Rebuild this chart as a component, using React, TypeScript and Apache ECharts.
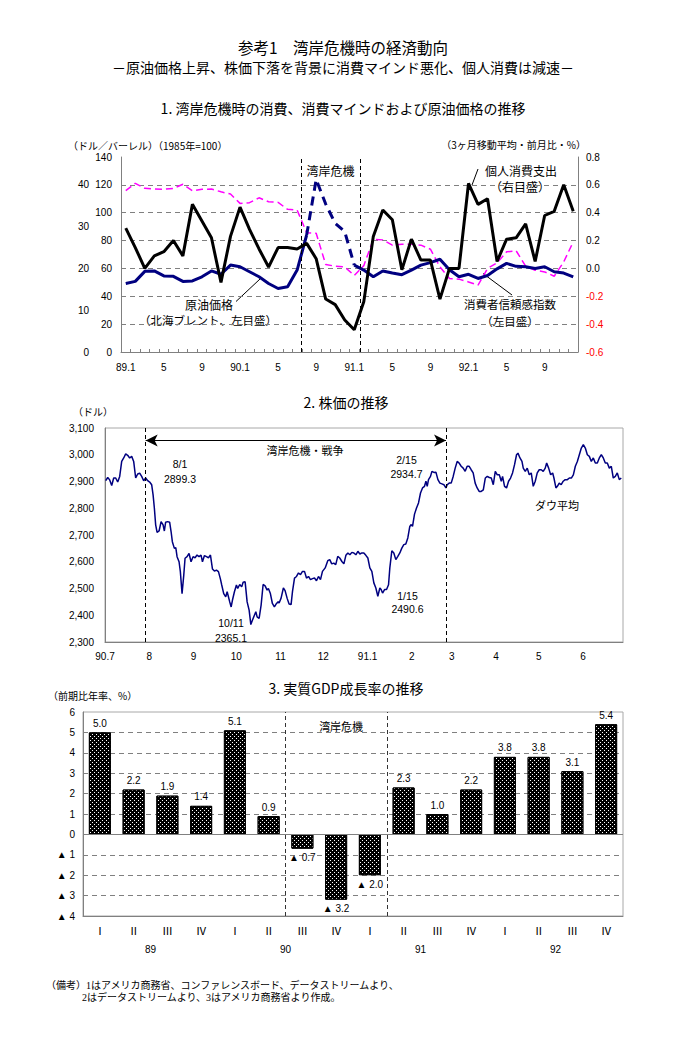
import { useEffect, useRef } from "react";
import * as echarts from "echarts";

const JP = '"Noto Sans CJK JP", sans-serif';
const NUM = '"Liberation Sans", Arial, sans-serif';
const GRAY = "#808080";

// ---------- Panel 1: monthly, 1989.1 - 1992.12 ----------
const monthCategories = [
  "89.1","89.2","89.3","89.4","89.5","89.6","89.7","89.8","89.9","89.10","89.11","89.12",
  "90.1","90.2","90.3","90.4","90.5","90.6","90.7","90.8","90.9","90.10","90.11","90.12",
  "91.1","91.2","91.3","91.4","91.5","91.6","91.7","91.8","91.9","91.10","91.11","91.12",
  "92.1","92.2","92.3","92.4","92.5","92.6","92.7","92.8","92.9","92.10","92.11","92.12",
];
// Consumer confidence index (1985=100), left inner axis
const confidenceIndex = [
  115.8,121.1,117.5,117.0,116.8,117.5,120.4,115.8,116.8,117.0,115.0,113.4,
  106.7,107.2,110.7,107.9,107.4,102.4,101.9,85.6,85.2,62.8,61.6,61.1,
  54.9,62.0,80.8,80.5,76.7,77.4,77.4,76.7,73.8,61.1,52.8,52.3,
  50.3,48.0,60.0,64.0,71.9,72.7,61.6,58.7,57.5,54.4,64.7,79.1,
];
// Brent crude ($/barrel), left outer axis
const oilPrice = [
  16.4,16.9,19.3,19.4,18.2,18.1,16.9,17.0,18.0,19.4,18.6,20.8,
  20.4,19.2,18.0,16.4,15.2,15.6,19.6,28.0,41.3,35.4,30.8,28.8,
  20.8,19.6,18.0,19.4,18.9,18.5,19.6,20.8,21.4,22.2,19.7,18.0,
  18.6,17.6,18.3,19.9,21.2,20.5,20.4,20.0,20.4,19.2,18.9,18.0,
];
// Personal consumption expenditure (3-month MA, m/m %), right axis
const consumptionChange = [
  0.29,0.15,0.00,0.09,0.12,0.20,0.09,0.46,0.34,0.22,-0.10,0.23,
  0.44,0.28,0.14,0.01,0.15,0.15,0.14,0.18,0.07,-0.22,-0.26,-0.37,
  -0.44,-0.24,0.23,0.42,0.35,-0.01,0.21,0.06,0.06,-0.22,0.00,0.00,
  0.61,0.46,0.50,0.05,0.21,0.22,0.32,0.05,0.38,0.41,0.60,0.41,
];
const oilDashFrom = 19;
const oilDashTo = 24;
const crisisMonths = [18.4, 24.6];

// ---------- Panel 2: Dow (day offset from 1990-07-01, close) ----------
const dowSeries: [number, number][] = [
  [0.5,2903],[1.9,2915],[3.3,2906],[4.7,2885],[6.1,2913],[7.5,2913],[8.9,2898],[10.3,2919],[11.7,2975],[13.1,2988],
  [14.5,3003],[15.9,2998],[17.3,2988],[18.7,2994],[20.1,2975],[21.5,2913],[22.9,2928],[24.3,2931],[25.7,2919],[27.1,2903],
  [28.5,2913],[29.9,2903],[31.3,2898],[32.7,2888],[33.7,2850],[34.6,2800],[35.5,2738],[36.5,2710],[37.9,2715],[39.3,2750],
  [40.7,2738],[41.6,2715],[42.5,2748],[43.9,2750],[45.3,2748],[46.3,2713],[47.2,2675],[48.6,2650],[49.6,2653],[50.5,2619],
  [51.9,2600],[52.8,2563],[54.0,2481],[55.2,2550],[56.1,2613],[57.5,2619],[58.9,2631],[60.3,2600],[61.7,2619],[63.1,2615],
  [64.5,2625],[65.9,2619],[67.3,2625],[68.3,2600],[69.7,2623],[71.1,2619],[72.5,2615],[73.9,2625],[75.3,2573],[76.7,2565],
  [78.1,2569],[79.5,2563],[80.9,2535],[81.8,2513],[83.2,2481],[84.6,2469],[85.6,2488],[86.5,2469],[87.4,2450],[88.4,2431],
  [89.3,2456],[90.7,2488],[92.1,2513],[93.0,2500],[94.4,2515],[95.8,2506],[96.8,2523],[98.2,2525],[99.6,2450],[101.0,2419],
  [102.2,2365],[103.3,2381],[104.7,2400],[105.7,2413],[106.6,2394],[108.0,2388],[109.4,2438],[110.8,2515],[112.2,2510],[113.6,2494],
  [114.5,2500],[115.9,2481],[117.3,2444],[118.7,2431],[120.2,2444],[121.3,2450],
  [122.0,2446],[123.4,2464],[125.0,2502],[126.2,2492],[127.6,2464],[129.0,2442],[130.4,2440],[131.4,2489],[132.8,2539],[134.2,2545],
  [135.6,2558],[137.0,2552],[138.4,2564],[139.8,2564],[141.2,2539],[142.6,2545],[144.0,2533],[145.4,2537],[146.8,2539],[148.2,2529],
  [149.6,2545],[151.0,2533],[152.4,2564],[154.3,2577],[156.1,2604],[157.5,2608],[158.9,2592],[160.3,2595],[161.7,2589],[163.1,2620],
  [164.5,2614],[166.0,2601],[167.4,2592],[168.8,2624],[170.2,2633],[171.6,2626],[173.0,2635],[174.4,2633],[175.8,2626],[177.2,2639],
  [178.6,2629],[180.0,2633],[181.4,2633],[182.8,2624],[184.2,2614],[185.6,2577],[187.0,2564],[188.4,2521],[189.8,2502],[191.2,2471],
  [192.6,2502],[193.5,2496],[194.5,2483],[195.9,2496],[197.3,2496],[198.7,2514],[199.6,2577],[201.0,2641],[202.4,2633],[203.8,2608],
  [205.2,2620],[206.6,2633],[208.0,2651],[209.4,2664],[210.8,2666],[212.2,2689],[213.6,2732],[214.6,2739],[215.5,2732],[216.9,2778],
  [218.3,2801],[219.7,2820],[221.1,2857],[222.5,2876],[223.9,2882],[224.9,2901],[225.8,2882],[226.7,2907],[228.1,2919],[229.1,2938],
  [230.5,2934],[231.9,2935],[233.3,2907],[234.7,2894],[236.1,2891],[237.5,2888],[238.9,2876],
  [239.8,2888],[241.2,2894],[242.6,2894],[244.0,2919],[245.4,2950],[246.8,2975],[248.2,2969],[249.6,2957],[251.0,2950],[252.4,2938],
  [253.8,2957],[255.2,2957],[256.6,2944],[258.0,2932],[259.4,2894],[260.8,2876],[262.2,2863],[263.6,2863],[265.1,2869],[266.5,2913],
  [267.9,2919],[269.3,2915],[270.7,2913],[272.1,2888],[273.5,2938],[274.9,2925],[276.3,2925],[277.7,2901],[278.6,2919],[280.0,2882],
  [281.4,2876],[282.8,2901],[284.2,2913],[285.6,2932],[287.0,2963],[288.4,3000],[289.4,3006],[290.8,2988],[292.2,2975],[293.1,2950],
  [294.5,2938],[295.9,2950],[297.3,2925],[298.7,2932],[300.1,2882],[301.5,2901],[302.9,2932],[304.3,2944],[305.7,2944],[307.1,2938],
  [308.5,2950],[309.5,2969],[310.9,2950],[312.3,2925],[313.7,2932],[314.6,2913],[316.0,2876],[317.0,2882],[318.3,2894],[319.7,2888],
  [321.1,2901],[322.5,2907],[324.0,2907],[325.4,2913],[326.8,2913],[328.2,2925],[329.6,2957],[331.0,2975],[332.4,3000],[333.8,3025],
  [335.2,3038],[336.6,3025],[338.0,3000],[339.4,2994],[340.8,2975],[342.2,2988],[343.6,2969],[345.0,2969],[346.4,2988],[347.8,3000],
  [349.2,2988],[350.6,2969],[352.0,2969],[353.4,2950],[354.8,2957],[356.2,2913],[357.6,2919],[359.0,2932],[360.4,2907],[361.8,2913],
];
const dowMonthStarts = [0, 31, 62, 92, 123, 153, 184, 215, 243, 274, 304, 335];
const dowMonthLabels = ["90.7", "8", "9", "10", "11", "12", "91.1", "2", "3", "4", "5", "6"];
const dowCrisisDays = [28.5, 239];
const dowArrowLevel = 3053;

// ---------- Panel 3: real GDP growth ----------
const quarterCategories = [
  "89Q1","89Q2","89Q3","89Q4","90Q1","90Q2","90Q3","90Q4",
  "91Q1","91Q2","91Q3","91Q4","92Q1","92Q2","92Q3","92Q4",
];
const romanLabels: Record<string, string> = { Q1: "Ⅰ", Q2: "Ⅱ", Q3: "Ⅲ", Q4: "Ⅳ" };
const yearLabels = ["89", "90", "91", "92"];
const gdpGrowth = [5.0, 2.2, 1.9, 1.4, 5.1, 0.9, -0.7, -3.2, -2.0, 2.3, 1.0, 2.2, 3.8, 3.8, 3.1, 5.4];
const gdpCrisisBounds = [5.5, 8.5];

function txt(text: string, x: number, y: number, size: number, align = "center", family = JP, fill = "#000") {
  return {
    type: "text",
    x,
    y,
    silent: true,
    style: {
      text,
      fill,
      font: `${size}px ${family}`,
      align,
      textAlign: align,
      verticalAlign: "middle",
      textVerticalAlign: "middle",
      lineHeight: size,
    },
  };
}
function seg(x1: number, y1: number, x2: number, y2: number) {
  return { type: "line", silent: true, shape: { x1, y1, x2, y2 }, style: { stroke: "#000", lineWidth: 1 } };
}

function buildOption(): any {
  const oilSolid = oilPrice.map((v, i) => (i <= oilDashFrom || i >= oilDashTo ? v : null));
  const oilDashed = oilPrice.map((v, i) => (i >= oilDashFrom && i <= oilDashTo ? v : null));
  const g = GRAY;

  return {
    animation: false,
    backgroundColor: "#fff",
    textStyle: { fontFamily: NUM },
    grid: [
      { left: 121, top: 157, width: 457, height: 195 },
      { left: 105, top: 428, width: 518, height: 214, show: true, borderColor: "#a8a8a8", borderWidth: 1 },
      { left: 83, top: 712, width: 540, height: 204, show: true, borderColor: "#a8a8a8", borderWidth: 1 },
    ],
    xAxis: [
      {
        gridIndex: 0, type: "category", data: monthCategories, boundaryGap: true,
        axisLine: { onZero: false, lineStyle: { color: g } },
        axisTick: { show: true, inside: true, length: 3, interval: 0, lineStyle: { color: g } },
        axisLabel: {
          interval: 3, color: "#000", fontSize: 10, fontFamily: NUM, margin: 10,
          formatter: (v: string) => (v.endsWith(".1") ? v : v.split(".")[1]),
        },
      },
      { gridIndex: 0, type: "value", min: -0.5, max: 47.5, show: false, axisLine: { onZero: false } },
      {
        gridIndex: 1, type: "value", min: 0, max: 363,
        axisLine: { onZero: false, lineStyle: { color: g } }, axisTick: { show: false }, splitLine: { show: false },
        axisLabel: {
          customValues: dowMonthStarts, color: "#000", fontSize: 10, fontFamily: NUM, margin: 9,
          formatter: (v: number) => {
            const i = dowMonthStarts.indexOf(Math.round(v));
            return i >= 0 ? dowMonthLabels[i] : "";
          },
        },
      },
      {
        gridIndex: 2, type: "category", data: quarterCategories, position: "bottom", offset: 0,
        axisLine: { onZero: false, lineStyle: { color: g } },
        axisTick: { length: 21, interval: 0, lineStyle: { color: "#9a9a9a" } },
        axisLabel: {
          interval: 0, margin: 8, fontSize: 11, fontFamily: JP, color: "#000",
          formatter: (v: string) => romanLabels[v.slice(2)],
        },
      },
      {
        gridIndex: 2, type: "category", data: yearLabels, position: "bottom", offset: 0,
        axisLine: { show: false, onZero: false },
        axisTick: { length: 41, interval: 0, lineStyle: { color: "#9a9a9a", type: "dotted" } },
        axisLabel: { interval: 0, margin: 28, fontSize: 10, fontFamily: NUM, color: "#000" },
      },
      { gridIndex: 2, type: "value", min: -0.5, max: 15.5, show: false, axisLine: { onZero: false } },
    ],
    yAxis: [
      {
        gridIndex: 0, type: "value", min: 0, max: 140, interval: 20, position: "left",
        axisLine: { show: true, onZero: false, lineStyle: { color: g } }, axisTick: { show: false },
        axisLabel: { fontSize: 10, color: "#000", margin: 9, fontFamily: NUM },
        splitLine: { show: true, lineStyle: { color: ["transparent", g, g, g, g, g, g, "transparent"], type: [5, 4] } },
      },
      {
        gridIndex: 0, type: "value", min: 0, max: 140 / 3, interval: 10, position: "left", offset: 23,
        axisLine: { show: false, onZero: false }, axisTick: { show: false }, splitLine: { show: false },
        axisLabel: {
          fontSize: 10, color: "#000", margin: 9, fontFamily: NUM,
          formatter: (v: number) => (Math.abs(v % 10) < 1e-6 ? String(Math.round(v)) : ""),
        },
      },
      {
        gridIndex: 0, type: "value", min: -0.6, max: 0.8, interval: 0.2, position: "right",
        axisLine: { show: true, onZero: false, lineStyle: { color: g } }, axisTick: { show: false }, splitLine: { show: false },
        axisLabel: {
          fontSize: 10, margin: 8, fontFamily: NUM,
          formatter: (v: number) => (Math.abs(v) < 1e-9 ? 0 : v).toFixed(1),
          color: (v: any) => (Number(v) < -1e-9 ? "#ff0000" : "#000"),
        },
      },
      {
        gridIndex: 1, type: "value", min: 2300, max: 3100, interval: 100,
        axisLine: { show: true, onZero: false, lineStyle: { color: g } }, axisTick: { show: false }, splitLine: { show: false },
        axisLabel: {
          fontSize: 10, color: "#000", margin: 11, fontFamily: NUM,
          formatter: (v: number) => v.toLocaleString("en-US"),
        },
      },
      {
        gridIndex: 2, type: "value", min: -4, max: 6, interval: 1,
        axisLine: { show: true, onZero: false, lineStyle: { color: g } }, axisTick: { show: false },
        axisLabel: {
          fontSize: 10, color: "#000", margin: 8, fontFamily: NUM,
          formatter: (v: number) => (v < 0 ? "▲ " + -v : String(v)),
        },
        splitLine: {
          show: true,
          lineStyle: { color: ["transparent", g, g, g, "transparent", g, g, g, g, g, "transparent"], type: [5, 4] },
        },
      },
    ],
    series: [
      {
        name: "消費者信頼感指数", type: "line", xAxisIndex: 0, yAxisIndex: 0, data: confidenceIndex,
        symbol: "none", lineStyle: { color: "#ff00ff", width: 1.5, type: [7, 4] }, z: 2,
      },
      {
        name: "原油価格", type: "line", xAxisIndex: 0, yAxisIndex: 1, data: oilSolid, connectNulls: false,
        symbol: "none", lineStyle: { color: "#000080", width: 3 }, z: 3,
      },
      {
        name: "原油価格（湾岸危機）", type: "line", xAxisIndex: 0, yAxisIndex: 1, data: oilDashed, connectNulls: false,
        symbol: "none", lineStyle: { color: "#000080", width: 3, type: [9, 6] }, z: 3,
      },
      {
        name: "個人消費支出", type: "line", xAxisIndex: 0, yAxisIndex: 2, data: consumptionChange,
        symbol: "none", lineStyle: { color: "#000", width: 3 }, z: 4,
      },
      {
        type: "line", xAxisIndex: 1, yAxisIndex: 0, data: [], silent: true,
        markLine: {
          silent: true, symbol: "none", label: { show: false },
          lineStyle: { color: "#000", type: [4, 3], width: 1 },
          data: crisisMonths.map((m) => ({ xAxis: m })),
        },
        markArea: {
          silent: true, itemStyle: { color: "rgba(0,0,0,0)" },
          label: { show: true, position: "insideTop", distance: 7, color: "#000", fontSize: 12, fontFamily: JP },
          data: [[{ name: "湾岸危機", xAxis: crisisMonths[0] }, { xAxis: crisisMonths[1] }]],
        },
      },
      {
        name: "ダウ平均", type: "line", xAxisIndex: 2, yAxisIndex: 3, data: dowSeries,
        symbol: "none", lineStyle: { color: "#000080", width: 1.5 },
        markLine: {
          silent: true, symbol: "none", label: { show: false },
          lineStyle: { color: "#000", type: [4, 3], width: 1 },
          data: [
            ...dowCrisisDays.map((d) => ({ xAxis: d })),
            [
              { coord: [dowCrisisDays[0], dowArrowLevel], symbol: "arrow", symbolSize: [9, 12], lineStyle: { type: "solid", color: "#000", width: 1 } },
              { coord: [dowCrisisDays[1], dowArrowLevel], symbol: "arrow", symbolSize: [9, 12] },
            ],
          ],
        },
      },
      {
        name: "実質GDP", type: "bar", xAxisIndex: 3, yAxisIndex: 4, barWidth: 22,
        data: gdpGrowth.map((v) => ({ value: v, label: { position: v < 0 ? "bottom" : "top" } })),
        itemStyle: {
          color: "#000", borderColor: "#000", borderWidth: 1,
          decal: { symbol: "rect", symbolSize: 1, color: "#ffffff", dashArrayX: [[1, 3], [0, 2, 1, 1]], dashArrayY: [1, 1] },
        },
        label: {
          show: true, fontSize: 10, fontFamily: NUM, color: "#000", distance: 4,
          formatter: (p: any) => (p.value < 0 ? "▲ " + (-p.value).toFixed(1) : p.value.toFixed(1)),
        },
        z: 3,
      },
      {
        type: "line", xAxisIndex: 5, yAxisIndex: 4, data: [], silent: true,
        markLine: {
          silent: true, symbol: "none", label: { show: false },
          data: [
            ...gdpCrisisBounds.map((b) => ({ xAxis: b, lineStyle: { color: "#333", type: [4, 3], width: 1 } })),
            { yAxis: 0, lineStyle: { color: "#808080", type: "solid", width: 1.2 } },
          ],
        },
        markArea: {
          silent: true, itemStyle: { color: "rgba(0,0,0,0)" },
          label: { show: true, position: "insideTop", distance: 8, offset: [5, 0], color: "#000", fontSize: 11, fontFamily: JP },
          data: [[{ name: "湾岸危機", xAxis: gdpCrisisBounds[0] }, { xAxis: gdpCrisisBounds[1] }]],
        },
      },
    ],
    graphic: {
      elements: [
        txt("参考1　湾岸危機時の経済動向", 343, 47, 15.5),
        txt("－原油価格上昇、株価下落を背景に消費マインド悪化、個人消費は減速－", 343, 67, 14),
        txt("1. 湾岸危機時の消費、消費マインドおよび原油価格の推移", 343, 108, 14),
        txt("（ドル／バーレル）（1985年=100）", 68, 145, 10, "left"),
        txt("（3ヶ月移動平均・前月比・%）", 586, 144, 10, "right"),
        txt("原油価格", 209, 304, 12),
        txt("（北海ブレント、左目盛）", 208, 319.5, 11.5),
        seg(236, 301.5, 260, 279),
        txt("個人消費支出", 521, 170.5, 12),
        txt("（右目盛）", 520, 186, 12),
        seg(478, 169, 472, 185),
        txt("消費者信頼感指数", 510, 304, 11.5),
        txt("（左目盛）", 510, 321, 11.5),
        seg(483, 273.5, 512, 295),

        txt("2. 株価の推移", 346, 402, 14),
        txt("（ドル）", 73, 411.5, 10, "left"),
        txt("湾岸危機・戦争", 305, 450, 11),
        txt("8/1", 180, 463.5, 10.5, "center", NUM),
        txt("2899.3", 180, 479, 10.5, "center", NUM),
        txt("10/11", 231, 623, 10.5, "center", NUM),
        txt("2365.1", 231, 638, 10.5, "center", NUM),
        txt("2/15", 406.5, 460, 10.5, "center", NUM),
        txt("2934.7", 406.5, 473.5, 10.5, "center", NUM),
        txt("1/15", 407.5, 595.5, 10.5, "center", NUM),
        txt("2490.6", 407.5, 609, 10.5, "center", NUM),
        txt("ダウ平均", 557, 505, 11),

        txt("3. 実質GDP成長率の推移", 346, 688, 14),
        txt("（前期比年率、%）", 48, 695.5, 10, "left"),

        txt("（備考）1はアメリカ商務省、コンファレンスボード、データストリームより、", 46, 985, 10, "left", '"Liberation Serif", "Noto Sans CJK JP", serif'),
        txt("2はデータストリームより、3はアメリカ商務省より作成。", 82, 997, 10, "left", '"Liberation Serif", "Noto Sans CJK JP", serif'),
      ],
    },
  };
}

export default function App() {
  const ref = useRef<HTMLDivElement>(null);
  useEffect(() => {
    if (!ref.current) return;
    const chart = echarts.init(ref.current, null, { renderer: "svg" });
    chart.setOption(buildOption());
    return () => chart.dispose();
  }, []);
  return (
    <div
      ref={ref}
      style={{ position: "absolute", left: 0, top: 0, width: 686, height: 1054, background: "#fff" }}
    />
  );
}
